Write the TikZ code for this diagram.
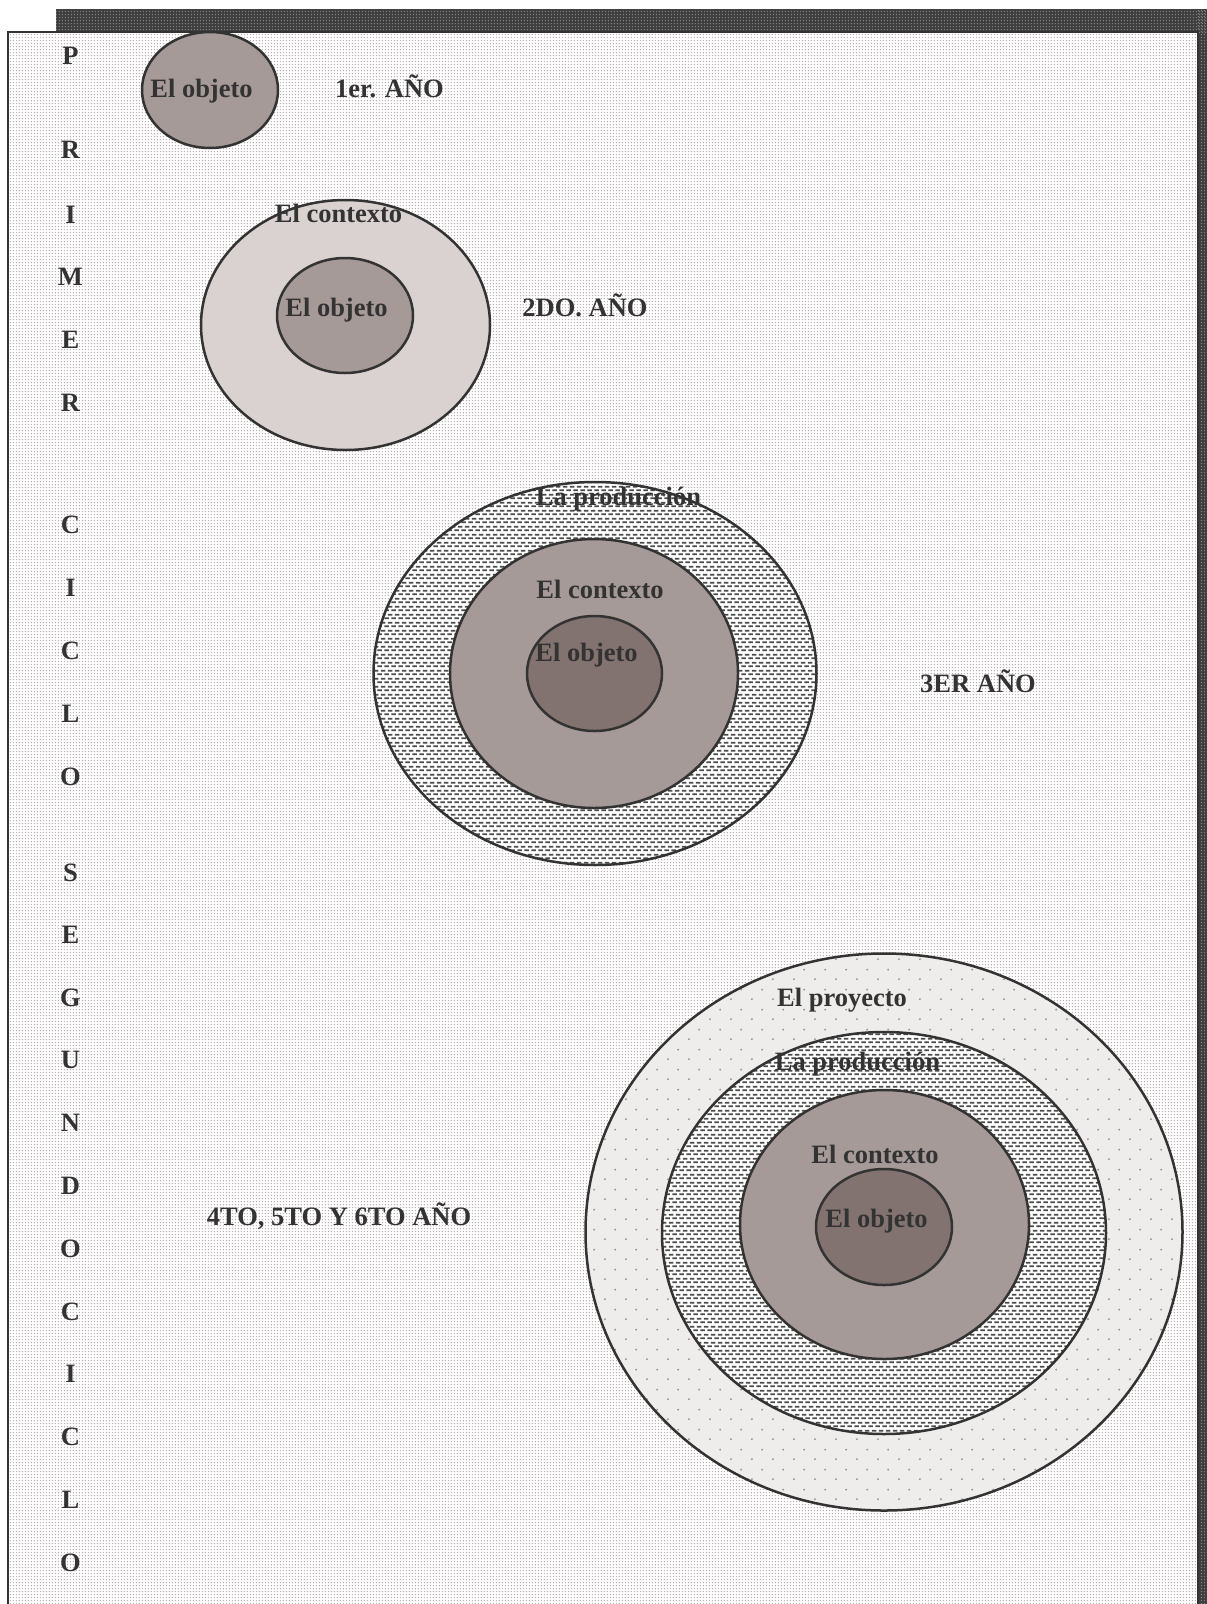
\documentclass[tikz,border=0pt]{standalone}
\usepackage{fontspec}
\setmainfont{Liberation Serif}
\usetikzlibrary{patterns.meta}

\definecolor{inkcol}{HTML}{333333}
\definecolor{linecol}{HTML}{333333}
\definecolor{bgdotcol}{HTML}{B4A6A6}
\definecolor{shadowcol}{HTML}{3E3E3E}
\definecolor{shadowdot}{HTML}{8A8A8A}
\definecolor{objA}{HTML}{A69A98}
\definecolor{objB}{HTML}{827371}
\definecolor{ctxlight}{HTML}{D9D2D0}
\definecolor{dashcol}{HTML}{4A4A4A}
\definecolor{proyfill}{HTML}{EFEDEC}
\definecolor{proydot}{HTML}{A09090}

\pgfdeclarepattern{
  name=bgdots, type=uncolored,
  bottom left={\pgfpoint{0pt}{0pt}},
  top right={\pgfpoint{3.3pt}{3.3pt}},
  tile size={\pgfpoint{3.3pt}{3.3pt}},
  code={\pgfpathcircle{\pgfpoint{1.65pt}{1.65pt}}{0.8pt}\pgfusepath{fill}}
}
\pgfdeclarepattern{
  name=dashpat, type=uncolored,
  bottom left={\pgfpoint{0pt}{0pt}},
  top right={\pgfpoint{7.4pt}{8pt}},
  tile size={\pgfpoint{7.4pt}{8pt}},
  code={
    \pgfpathrectangle{\pgfpoint{0.4pt}{1pt}}{\pgfpoint{4.8pt}{2pt}}
    \pgfpathrectangle{\pgfpoint{4.1pt}{5pt}}{\pgfpoint{3.3pt}{2pt}}
    \pgfpathrectangle{\pgfpoint{0pt}{5pt}}{\pgfpoint{1.5pt}{2pt}}
    \pgfusepath{fill}}
}
\pgfdeclarepattern{
  name=sparsedots, type=uncolored,
  bottom left={\pgfpoint{0pt}{0pt}},
  top right={\pgfpoint{20.7pt}{20pt}},
  tile size={\pgfpoint{20.7pt}{20pt}},
  code={\pgfpathcircle{\pgfpoint{5pt}{5pt}}{1.1pt}
        \pgfpathcircle{\pgfpoint{15.35pt}{15pt}}{1.1pt}\pgfusepath{fill}}
}

\tikzset{
  lbl/.style={inner sep=0pt, anchor=base, text=inkcol,
    font=\fontsize{26.5}{30}\selectfont\bfseries},
  rim/.style={draw=linecol, line width=2.5pt},
}

\begin{document}
\begin{tikzpicture}[x=1pt,y=-1pt]
\useasboundingbox (0,0) rectangle (1207,1604);
% shadow
\fill[shadowcol] (56,9) rectangle (1207,33);
\fill[shadowcol] (1197,9) rectangle (1207,1604);
\fill[pattern=bgdots, pattern color=shadowdot] (56,9) rectangle (1207,33);
\fill[pattern=bgdots, pattern color=shadowdot] (1197,9) rectangle (1207,1604);
% main box
\fill[white] (8,32) rectangle (1198,1612);
\fill[pattern=bgdots, pattern color=bgdotcol] (8,32) rectangle (1198,1612);
\draw[rim] (8,1612) -- (8,32) -- (1198,32) -- (1198,1612);

% set 1
\fill[objA] (210,90) ellipse [x radius=68, y radius=58];
\draw[rim] (210,90) ellipse [x radius=68, y radius=58];

% set 2
\fill[ctxlight] (345.5,325) ellipse [x radius=144.5, y radius=125];
\draw[rim] (345.5,325) ellipse [x radius=144.5, y radius=125];
\fill[objA] (345,315.5) ellipse [x radius=68, y radius=57.5];
\draw[rim] (345,315.5) ellipse [x radius=68, y radius=57.5];

% set 3
\fill[white] (595,673.5) ellipse [x radius=221.5, y radius=191.5];
\fill[pattern=dashpat, pattern color=dashcol] (595,673.5) ellipse [x radius=221.5, y radius=191.5];
\draw[rim] (595,673.5) ellipse [x radius=221.5, y radius=191.5];
\fill[objA] (594,673.5) ellipse [x radius=144, y radius=134.5];
\draw[rim] (594,673.5) ellipse [x radius=144, y radius=134.5];
\fill[objB] (594.5,673.5) ellipse [x radius=67.5, y radius=57.5];
\draw[rim] (594.5,673.5) ellipse [x radius=67.5, y radius=57.5];

% set 4
\fill[proyfill] (884,1232) ellipse [x radius=298.5, y radius=278.5];
\fill[pattern=sparsedots, pattern color=proydot] (884,1232) ellipse [x radius=298.5, y radius=278.5];
\draw[rim] (884,1232) ellipse [x radius=298.5, y radius=278.5];
\fill[white] (884,1233) ellipse [x radius=222, y radius=201];
\fill[pattern=dashpat, pattern color=dashcol] (884,1233) ellipse [x radius=222, y radius=201];
\draw[rim] (884,1233) ellipse [x radius=222, y radius=201];
\fill[objA] (884.5,1224.5) ellipse [x radius=144.5, y radius=134.5];
\draw[rim] (884.5,1224.5) ellipse [x radius=144.5, y radius=134.5];
\fill[objB] (884,1227) ellipse [x radius=68, y radius=58];
\draw[rim] (884,1227) ellipse [x radius=68, y radius=58];

% labels
\node[lbl] (t1obj) at (201.5,97) {El objeto};
\node[lbl] (t1yr) at (389.5,97) {1er. AÑO};
\node[lbl] (t2ctx) at (338.5,222) {El contexto};
\node[lbl] (t2obj) at (336.5,316) {El objeto};
\node[lbl] (t2yr) at (585,316) {2DO. AÑO};
\node[lbl] (t3prod) at (618.5,505) {La producción};
\node[lbl] (t3ctx) at (600,598) {El contexto};
\node[lbl] (t3obj) at (586.5,661) {El objeto};
\node[lbl] (t3yr) at (978,692) {3ER AÑO};
\node[lbl] (t4proy) at (842,1006) {El proyecto};
\node[lbl] (t4prod) at (857.5,1070) {La producción};
\node[lbl] (t4ctx) at (875,1163) {El contexto};
\node[lbl] (t4obj) at (876.5,1227) {El objeto};
\node[lbl] (t4yr) at (339,1225) {4TO, 5TO Y 6TO AÑO};

% vertical letters
\foreach \l/\y [count=\i] in {P/56,R/150,I/215,M/277,E/340,R/403,
  C/525,I/588,C/651,L/714,O/777,
  S/873,E/935,G/998,U/1060,N/1123,D/1186,O/1249,C/1312,I/1374,C/1437,L/1500,O/1563}
  \node[lbl] (v\i) at (70.5,\y+8.8) {\l};
\end{tikzpicture}
\end{document}
